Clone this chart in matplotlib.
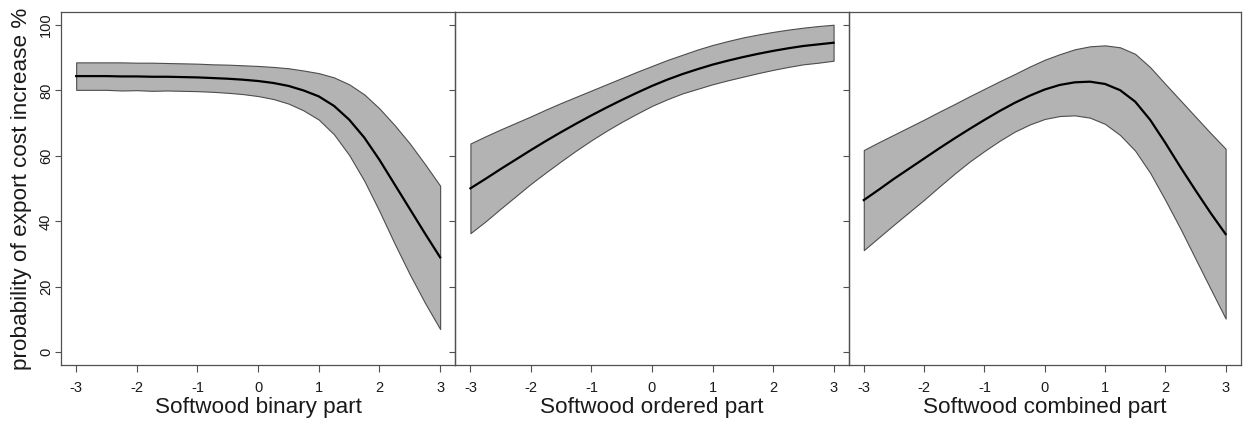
import matplotlib
matplotlib.use("Agg")
import matplotlib.pyplot as plt

plt.rcParams['font.family'] = ['Liberation Sans', 'DejaVu Sans']

# Predictor grid shared by the three panels
x_grid = [-3.0, -2.75, -2.5, -2.25, -2.0, -1.75, -1.5, -1.25, -1.0, -0.75, -0.5, -0.25,
          0.0, 0.25, 0.5, 0.75, 1.0, 1.25, 1.5, 1.75, 2.0, 2.25, 2.5, 2.75, 3.0]

# Softwood binary part: predicted probability (%) with confidence band
binary_fit = [84.4, 84.4, 84.4, 84.3, 84.3, 84.2, 84.2, 84.1, 84.0, 83.8, 83.6, 83.3,
              82.9, 82.3, 81.4, 80.0, 78.2, 75.3, 71.1, 65.6, 58.8, 51.3, 43.8, 36.3, 29.0]
binary_upper = [88.6, 88.6, 88.6, 88.6, 88.5, 88.5, 88.4, 88.3, 88.2, 88.0, 87.9, 87.7,
                87.5, 87.2, 86.8, 86.1, 85.3, 84.0, 81.9, 78.8, 74.5, 69.4, 63.8, 57.5, 50.9]
binary_lower = [80.2, 80.2, 80.2, 80.0, 80.1, 79.9, 80.0, 79.9, 79.8, 79.6, 79.3, 78.9,
                78.3, 77.4, 76.0, 73.9, 71.1, 66.6, 60.3, 52.4, 43.1, 33.2, 23.8, 15.1, 7.1]

# Softwood ordered part
ordered_fit = [50.1, 53.0, 56.0, 58.9, 61.8, 64.6, 67.3, 69.9, 72.4, 74.8, 77.1, 79.3,
               81.4, 83.3, 85.0, 86.5, 87.9, 89.1, 90.2, 91.2, 92.1, 92.9, 93.6, 94.1, 94.6]
ordered_upper = [63.8, 66.0, 68.1, 70.1, 72.1, 74.2, 76.2, 78.1, 80.0, 81.9, 83.8, 85.7,
                 87.5, 89.3, 90.9, 92.5, 93.9, 95.1, 96.2, 97.1, 97.9, 98.6, 99.2, 99.7, 100.1]
ordered_lower = [36.4, 40.0, 43.9, 47.7, 51.5, 55.0, 58.4, 61.7, 64.8, 67.7, 70.4, 72.9,
                 75.3, 77.3, 79.1, 80.5, 81.9, 83.1, 84.2, 85.3, 86.3, 87.2, 88.0, 88.5, 89.1]

# Softwood combined part
combined_fit = [46.5, 49.7, 53.0, 56.1, 59.2, 62.3, 65.3, 68.2, 71.0, 73.7, 76.2, 78.4,
                80.3, 81.7, 82.5, 82.7, 82.0, 80.1, 76.6, 71.0, 64.0, 56.6, 49.5, 42.6, 36.1]
combined_upper = [61.8, 64.2, 66.5, 68.8, 71.1, 73.5, 75.8, 78.2, 80.5, 82.8, 85.0, 87.3,
                  89.4, 91.1, 92.6, 93.5, 93.8, 93.2, 91.2, 87.1, 82.0, 77.0, 72.0, 67.0, 62.2]
combined_lower = [31.2, 35.1, 39.0, 42.8, 46.6, 50.6, 54.5, 58.2, 61.5, 64.6, 67.4, 69.6,
                  71.3, 72.2, 72.4, 71.7, 69.8, 66.4, 61.6, 54.8, 46.5, 37.8, 28.6, 19.4, 10.3]

panel_labels = ["Softwood binary part", "Softwood ordered part", "Softwood combined part"]
x_ticks = [-3, -2, -1, 0, 1, 2, 3]
y_ticks = [0, 20, 40, 60, 80, 100]
y_label = "probability of export cost increase %"

panels = [
    (binary_fit, binary_upper, binary_lower),
    (ordered_fit, ordered_upper, ordered_lower),
    (combined_fit, combined_upper, combined_lower),
]

W, H = 1244, 421
fig = plt.figure(figsize=(W / 100, H / 100), dpi=100)

edges = [61.0, 455.3, 848.7, 1240.7]
top_px, bottom_px = 12.3, 365.0
frame_col = "#505050"
text_col = "#1a1a1a"

for i, (fit, upper, lower) in enumerate(panels):
    left = edges[i] / W
    width = (edges[i + 1] - edges[i]) / W
    bottom = 1 - bottom_px / H
    height = (bottom_px - top_px) / H
    ax = fig.add_axes([left, bottom, width, height])
    ax.set_facecolor("none")

    ax.fill_between(x_grid, lower, upper, facecolor="#b3b3b3",
                    edgecolor="#4d4d4d", linewidth=0.8, zorder=2)
    ax.plot(x_grid, fit, color="black", linewidth=1.6, zorder=3,
            solid_joinstyle="round")

    ax.set_xlim(-3.25, 3.25)
    ax.set_ylim(-3.9, 103.9)
    ax.set_xticks(x_ticks)
    ax.set_xticklabels([str(t) for t in x_ticks])
    ax.set_yticks(y_ticks)

    for s in ax.spines.values():
        s.set_color(frame_col)
        s.set_linewidth(0.9)

    ax.tick_params(axis="both", direction="out", width=0.8,
                   color=frame_col, labelcolor=text_col, labelsize=10.5)
    ax.tick_params(axis="x", length=4.8, pad=6.5)
    ax.tick_params(axis="y", length=4.3, pad=1.5)
    ax.set_xlabel(panel_labels[i], fontsize=16.2, color=text_col, labelpad=2)

    if i == 0:
        ax.set_yticklabels([str(t) for t in y_ticks], rotation=90, va="center")
        ax.set_ylabel(y_label, fontsize=16.2, color=text_col, labelpad=5)
    else:
        ax.set_yticklabels([])

fig.savefig("out.png", dpi=100)
